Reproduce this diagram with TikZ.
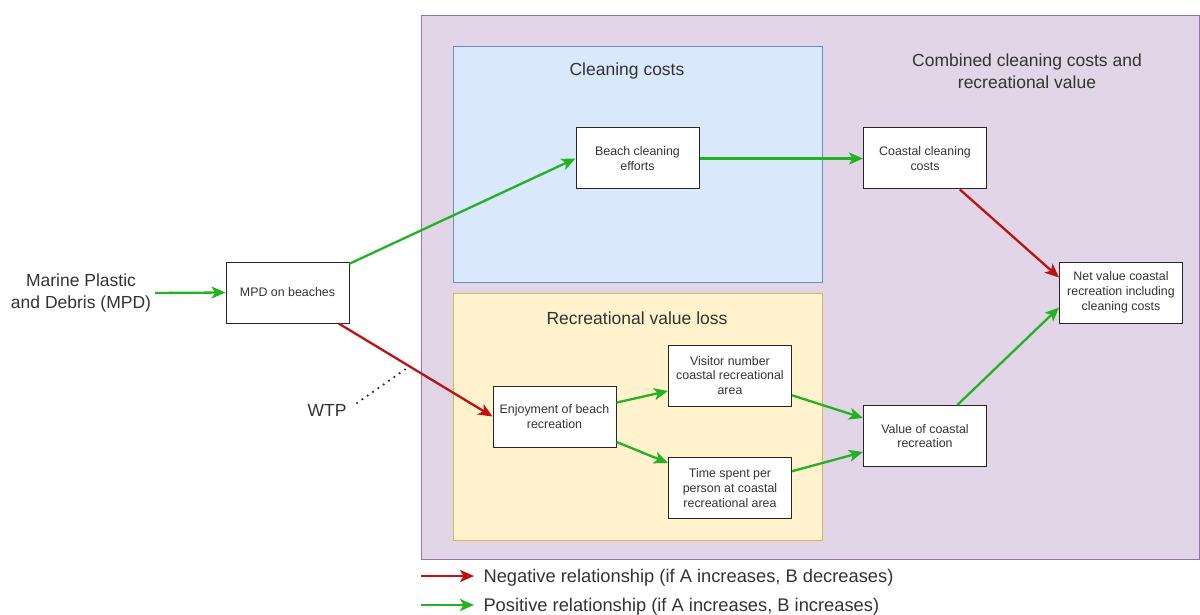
\documentclass[tikz,border=0pt]{standalone}
\usepackage{fontspec}
\setmainfont{Liberation Sans}
\usetikzlibrary{arrows.meta}

\definecolor{txtgray}{RGB}{51,51,51}
\definecolor{posgreen}{RGB}{34,178,34}
\definecolor{negred}{RGB}{188,18,18}
\definecolor{purplefill}{RGB}{225,213,231}
\definecolor{purpleline}{RGB}{150,115,166}
\definecolor{bluefill}{RGB}{218,232,252}
\definecolor{blueline}{RGB}{108,142,191}
\definecolor{yellowfill}{RGB}{255,242,204}
\definecolor{yellowline}{RGB}{214,182,86}

\tikzset{
  factor/.style={draw=black!85, fill=white, line width=1pt, minimum width=123pt,
    minimum height=61pt, align=center, inner sep=2pt, text=txtgray,
    font=\fontsize{12.4}{14.8}\selectfont},
  heading/.style={align=center, text=txtgray, font=\fontsize{17.5}{22}\selectfont},
  legendtxt/.style={anchor=west, text=txtgray, font=\fontsize{18.3}{22}\selectfont},
  posrel/.style={->, >={Stealth[length=14pt,width=12pt,inset=3.5pt]}, line width=2.3pt, posgreen},
  negrel/.style={->, >={Stealth[length=14pt,width=12pt,inset=3.5pt]}, line width=2.3pt, negred}
}

\begin{document}
\begin{tikzpicture}[x=1pt, y=-1pt]
        \useasboundingbox (0,0) rectangle (1200,615);

        % Kaders
        \filldraw[fill=purplefill, draw=purpleline] (421,15) rectangle (1199.5,559);
        \filldraw[fill=bluefill, draw=blueline] (453,46) rectangle (822,282);
        \filldraw[fill=yellowfill, draw=yellowline] (453,293) rectangle (822,540);

        % Titels
        \node[heading] (tclean) at (627,71) {Cleaning costs};
        \node[heading] (trec) at (637,318) {Recreational value loss};
        \node[heading] (tcomb) at (1027,71) {Combined cleaning costs and\\recreational value};

        % Bron
        \node[heading] (mpdsrc) at (81,293) {Marine Plastic\\and Debris (MPD)};
        \coordinate (srcend) at (155,293);

        % Factoren
        \node[factor] (mpd) at (287.5,292.5) {MPD on beaches};
        \node[factor] (beach) at (637.5,158.5) {Beach cleaning\\efforts};
        \node[factor] (coast) at (925,158.5) {Coastal cleaning\\costs};
        \node[factor] (net) at (1121,292.5) {Net value coastal\\recreation including\\cleaning costs};
        \node[factor] (enjoy) at (554.5,416.5) {Enjoyment of beach\\recreation};
        \node[factor] (visit) at (730,375.5) {Visitor number\\coastal recreational\\area};
        \node[factor] (time) at (730,488) {Time spent per\\person at coastal\\recreational area};
        \node[factor] (value) at (925,436) {Value of coastal\\recreation};

        % Relaties
        \draw[posrel] (srcend) -- (mpd.west);
        \draw[posrel] (mpd) -- (beach.west);
        \draw[negrel] (mpd) -- (enjoy.west);
        \draw[posrel] (beach) -- (coast);
        \draw[negrel] (coast) -- ([yshift=15pt]net.west);
        \draw[posrel] (value) -- ([yshift=-15pt]net.west);
        \draw[posrel] (enjoy) -- ([yshift=-15.5pt]visit.west);
        \draw[posrel] (enjoy) -- ([yshift=25pt]time.west);
        \draw[posrel] (visit) -- ([yshift=18pt]value.west);
        \draw[posrel] (time) -- ([yshift=-16pt]value.west);

        % WTP
        \node[heading] (wtp) at (327,410) {WTP};
        \coordinate (wtpa) at (357,403);
        \coordinate (wtpb) at (410,366);
        \draw[line width=2.4pt, line cap=round, dash pattern=on 0pt off 6.5pt, black!85] (wtpa) -- (wtpb);

        % Legenda
        \coordinate (nega) at (421,576);
        \coordinate (negb) at (474,576);
        \coordinate (posa) at (421,605);
        \coordinate (posb) at (474,605);
        \draw[negrel] (nega) -- (negb);
        \draw[posrel] (posa) -- (posb);
        \node[legendtxt] (negtxt) at (480,578) {Negative relationship (if A increases, B decreases)};
        \node[legendtxt] (postxt) at (480,607) {Positive relationship (if A increases, B increases)};

    \end{tikzpicture}
\end{document}
